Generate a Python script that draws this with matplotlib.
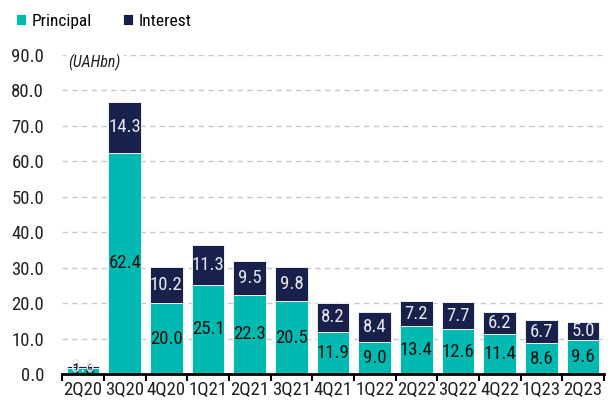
import matplotlib.pyplot as plt

quarters = ['2Q20', '3Q20', '4Q20', '1Q21', '2Q21', '3Q21', '4Q21',
            '1Q22', '2Q22', '3Q22', '4Q22', '1Q23', '2Q23']
principal = [1.6, 62.4, 20.0, 25.1, 22.3, 20.5, 11.9, 9.0, 13.4, 12.6, 11.4, 8.6, 9.6]
interest = [0.6, 14.3, 10.2, 11.3, 9.5, 9.8, 8.2, 8.4, 7.2, 7.7, 6.2, 6.7, 5.0]

plt.rcParams['font.family'] = ['Roboto Condensed', 'DejaVu Sans']

teal = '#00b9b1'
navy = '#17214c'

fig = plt.figure(figsize=(6.1, 4.03), dpi=100)
ax = fig.add_axes([0.102, 0.072, 0.888, 0.792])

x = list(range(len(quarters)))
b1 = ax.bar(x, principal, width=0.78, color=teal, edgecolor='white', linewidth=0.6,
            label='Principal', zorder=2)
b2 = ax.bar(x, interest, width=0.78, bottom=principal, color=navy, edgecolor='white',
            linewidth=0.6, label='Interest', zorder=2)

for i in x:
    ax.text(i, principal[i] / 2, f'{principal[i]:.1f}', ha='center', va='center',
            fontsize=13.5, color='#111111', zorder=3)
    ax.text(i, principal[i] + interest[i] / 2, f'{interest[i]:.1f}', ha='center',
            va='center', fontsize=13.5, color='#e8e8f0', zorder=3)

ax.set_xlim(-0.5, len(quarters) - 0.5)
ax.set_ylim(0, 90)
ax.set_yticks(range(0, 91, 10))
ax.set_yticklabels([f'{v:.1f}' for v in range(0, 91, 10)], fontsize=13.5, color='#222222')
ax.yaxis.grid(True, linestyle=(0, (4, 3)), color='#c8c8c8', linewidth=1, zorder=0)
ax.tick_params(axis='y', length=0, pad=13)

ax.set_xticks(x)
ax.set_xticklabels(quarters, fontsize=13.5, color='#222222')
ax.tick_params(axis='x', which='major', length=0, pad=5)
ax.set_xticks([i - 0.5 for i in range(len(quarters) + 1)], minor=True)
ax.tick_params(axis='x', which='minor', length=5, width=1.5, direction='out', color='black')

for s in ['top', 'right', 'left']:
    ax.spines[s].set_visible(False)
ax.spines['bottom'].set_linewidth(2)
ax.spines['bottom'].set_color('black')

ax.text(-0.35, 88, '(UAHbn)', style='italic', fontsize=11.5, color='#222222',
        ha='left', va='center', bbox=dict(facecolor='white', edgecolor='none', pad=2), zorder=3)

fig.legend(handles=[b1, b2], loc='upper left', bbox_to_anchor=(0.0, 1.005), ncol=2,
           frameon=False, fontsize=12.5, handlelength=0.6, handleheight=0.6,
           handletextpad=0.3, columnspacing=1.8)

fig.savefig('out.png', dpi=100)
